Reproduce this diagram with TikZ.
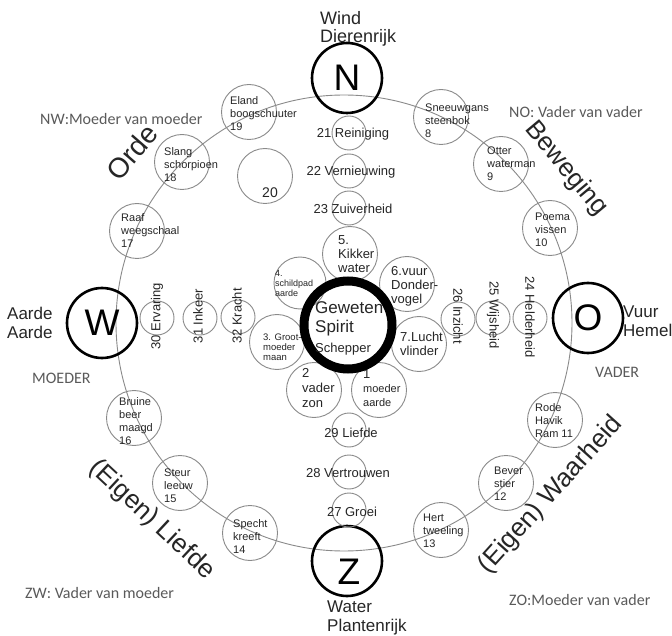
\documentclass[tikz,border=0pt]{standalone}
\usepackage{fontspec}
\setmainfont{Liberation Sans}
\newfontfamily\calib{Carlito}
\definecolor{textdark}{HTML}{262626}
\definecolor{linegray}{HTML}{8A8A8A}
\definecolor{cornergray}{HTML}{5A5A5A}
\begin{document}
\begin{tikzpicture}[x=1pt,y=-1pt,
  ringline/.style={draw=linegray,line width=0.9pt},
  zod/.style={circle,draw=linegray,line width=0.9pt,minimum size=55pt,inner sep=0pt},
  quad/.style={circle,draw=black,line width=2.6pt,minimum size=70pt,inner sep=0pt,font=\fontsize{37}{37}\selectfont},
  smallc/.style={circle,draw=linegray,line width=0.9pt,minimum size=34pt,inner sep=0pt},
  petal/.style={circle,draw=linegray,line width=0.9pt,minimum size=55pt,inner sep=0pt},
  ztext/.style={anchor=west,align=left,inner sep=0pt,text=textdark,font=\fontsize{11}{13}\selectfont},
  ptext/.style={anchor=west,align=left,inner sep=0pt,text=textdark,font=\fontsize{13}{14}\selectfont},
  itext/.style={inner sep=0pt,text=textdark,font=\fontsize{13}{15}\selectfont},
  bigl/.style={inner sep=0pt,text=textdark,font=\fontsize{26}{30}\selectfont},
  side/.style={anchor=west,align=left,inner sep=0pt,text=textdark,font=\fontsize{17}{19}\selectfont},
  corner/.style={anchor=west,inner sep=0pt,text=cornergray,font=\calib\fontsize{16}{18}\selectfont},
]
\useasboundingbox (0,0) rectangle (672,636);
\fill[white] (0,0) rectangle (672,636);

% outer ring
\coordinate (ctr) at (344,323);
\draw[ringline] (ctr) circle[radius=228pt];

% four directions
\node[quad] (N) at (347,78) {N};
\node[quad] (W) at (102,323) {W};
\node[quad] (O) at (588,318) {O};
\node[quad] (Z) at (347,561) {};
\node[inner sep=0pt,text=black,font=\fontsize{37}{37}\selectfont] (Zl) at (349,572) {Z};

\node[side,font=\fontsize{18}{17.5}\selectfont] (wind) at (320,29) {Wind\\Dierenrijk};
\node[side] (aarde) at (7,323) {Aarde\\Aarde};
\node[side] (vuur) at (623,321) {Vuur\\Hemel};
\node[side] (water) at (327,618) {Water\\Plantenrijk};

\node[corner] (moeder) at (32,378) {MOEDER};
\node[corner] (vader) at (595,372) {VADER};
\node[corner] (nw) at (40,119) {NW:Moeder van moeder};
\node[corner] (no) at (509,112) {NO: Vader van vader};
\node[corner] (zw) at (25,593) {ZW: Vader van moeder};
\node[corner] (zo) at (509,600) {ZO:Moeder van vader};

% zodiac circles
\node[zod] (c8) at (441,117) {};
\node[zod] (c9) at (501,164) {};
\node[zod] (c10) at (550,228) {};
\node[zod] (c11) at (555,420) {};
\node[zod] (c12) at (506,483) {};
\node[zod] (c13) at (441,530) {};
\node[zod] (c14) at (250,533) {};
\node[zod] (c15) at (180,483) {};
\node[zod] (c16) at (134,418) {};
\node[zod] (c17) at (137,231) {};
\node[zod] (c18) at (182,162) {};
\node[zod] (c19) at (249,112) {};
\node[zod] (c20) at (265,176) {};

\node[ztext] (t8) at (425,121) {Sneeuwgans\\steenbok\\8};
\node[ztext] (t9) at (487,164) {Otter\\waterman\\9};
\node[ztext] (t10) at (535,230) {Poema\\vissen\\10};
\node[ztext] (t11) at (535,421) {Rode\\Havik\\Ram 11};
\node[ztext] (t12) at (494,484) {Bever\\stier\\12};
\node[ztext] (t13) at (423,531) {Hert\\tweeling\\13};
\node[ztext] (t14) at (233,537) {Specht\\kreeft\\14};
\node[ztext] (t15) at (164,486) {Steur\\leeuw\\15};
\node[ztext] (t16) at (119,421) {Bruine\\beer\\maagd\\16};
\node[ztext] (t17) at (121,231) {Raaf\\weegschaal\\17};
\node[ztext] (t18) at (164,165) {Slang\\schorpioen\\18};
\node[ztext] (t19) at (230,114) {Eland\\boogschuuter\\19};
\node[itext,font=\fontsize{14}{16}\selectfont] (t20) at (270,193) {20};

% inner column
\node[smallc] (s21) at (349,133) {};
\node[smallc] (s22) at (349,171) {};
\node[smallc] (s23) at (349,208) {};
\node[smallc] (s29) at (349,430) {};
\node[smallc] (s28) at (349,472) {};
\node[smallc] (s27) at (349,510) {};
\node[itext] (t21) at (353,134) {21 Reiniging};
\node[itext] (t22) at (351,172) {22 Vernieuwing};
\node[itext] (t23) at (353,209) {23 Zuiverheid};
\node[itext] (t29) at (351,433) {29 Liefde};
\node[itext] (t28) at (348,473) {28 Vertrouwen};
\node[itext] (t27) at (352,512) {27 Groei};

% inner row
\node[smallc] (s30) at (157,318) {};
\node[smallc] (s31) at (200,318) {};
\node[smallc] (s32) at (238,317) {};
\node[smallc] (s26) at (458,319) {};
\node[smallc] (s25) at (493,318) {};
\node[smallc] (s24) at (530,318) {};
\node[itext,rotate=90] (t30) at (157,316) {30 Ervaring};
\node[itext,rotate=90] (t31) at (198,316) {31 Inkeer};
\node[itext,rotate=90] (t32) at (237,316) {32 Kracht};
\node[itext,rotate=-90] (t26) at (458,316) {26 Inzicht};
\node[itext,rotate=-90] (t25) at (493,315) {25 Wijsheid};
\node[itext,rotate=-90] (t24) at (530,317) {24 Helderheid};

% petals
\node[petal] (p5) at (350,254) {};
\node[petal] (p6) at (407,284) {};
\node[petal] (p7) at (419,344) {};
\node[petal] (p1) at (379,390) {};
\node[petal] (p2) at (314,390) {};
\node[petal] (p3) at (277,342) {};
\node[petal,minimum size=52pt] (p4) at (300,283) {};
\node[ptext] (q5) at (338,254) {5.\\Kikker\\water};
\node[ptext] (q6) at (391,286) {6.vuur\\Donder-\\vogel};
\node[ptext] (q7) at (400,344) {7.Lucht\\vlinder};
\node[ptext] (q1) at (363,388) {1\\{\fontsize{11}{13}\selectfont moeder}\\{\fontsize{11}{13}\selectfont aarde}};
\node[ptext,font=\fontsize{13}{15}\selectfont] (q2) at (302,388) {2\\vader\\zon};
\node[ptext,font=\fontsize{9.5}{10}\selectfont] (q3) at (263,347) {3. Groot-\\moeder\\maan};
\node[ptext,font=\fontsize{9}{10}\selectfont] (q4) at (275,283) {4.\\schildpad\\aarde};

% centre
\node[circle,draw=black,line width=9pt,minimum size=88pt,inner sep=0pt] (G) at (348,325) {};
\node[anchor=west,align=left,inner sep=0pt,text=textdark,font=\fontsize{17}{19.5}\selectfont] (Gt) at (315,328)
  {Geweten\\Spirit\\{\fontsize{13}{15}\selectfont Schepper}};

% quadrant labels
\node[bigl,font=\fontsize{28}{30}\selectfont,rotate=49] (orde) at (132,152) {Orde};
\node[bigl,rotate=-50] (bew) at (566,169) {Beweging};
\node[bigl,rotate=-43] (lie) at (152,520) {(Eigen) Liefde};
\node[bigl,rotate=48] (waa) at (551,495) {(Eigen) Waarheid};
\end{tikzpicture}
\end{document}
